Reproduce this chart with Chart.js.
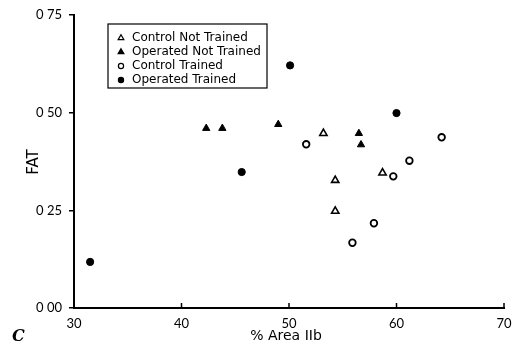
<!DOCTYPE html>
<html>
<head>
<meta charset="utf-8">
<script src="https://cdn.jsdelivr.net/npm/chart.js@4.4.0/dist/chart.umd.min.js"></script>
<style>
  html, body { margin: 0; padding: 0; background: #fff; }
</style>
</head>
<body>
<canvas id="fatChart" width="522" height="346"></canvas>
<script>
'use strict';
/*---------------------------------*/
/*-------------Data----------------*/
/*---------------------------------*/
let seriesNames = ['Control Not Trained', 'Operated Not Trained', 'Control Trained', 'Operated Trained'];

let controlNotTrainedArea = [53.2, 58.7, 54.3, 54.3];
let controlNotTrainedFat = [0.447, 0.346, 0.327, 0.248];

let operatedNotTrainedArea = [42.3, 43.8, 49.0, 56.5, 56.7];
let operatedNotTrainedFat = [0.46, 0.46, 0.47, 0.447, 0.418];

let controlTrainedArea = [51.6, 64.2, 61.2, 59.7, 57.9, 55.9];
let controlTrainedFat = [0.419, 0.437, 0.377, 0.337, 0.217, 0.167];

let operatedTrainedArea = [31.5, 45.6, 50.1, 60.0];
let operatedTrainedFat = [0.118, 0.348, 0.621, 0.499];

let xTickValues = [30, 40, 50, 60, 70];
let yTickValues = [0, 0.25, 0.5, 0.75];

let fontName = 'Lato, "DejaVu Sans", sans-serif';
let legendFont = '"DejaVu Sans", sans-serif';

/*---------------------------------*/
/*-------------Helpers-------------*/
/*---------------------------------*/
function toPoints(xs, ys) {
  let pts = [];
  for (let i = 0; i < xs.length; i++) {
    pts.push({ x: xs[i], y: ys[i] });
  }
  return pts;
}

// the old typeset labels read "0 75", with the point dropped
function fatLabel(value) {
  return value.toFixed(2).replace('.', ' ');
}

let datasets = [
  {
    label: seriesNames[0],
    data: toPoints(controlNotTrainedArea, controlNotTrainedFat),
    pointStyle: 'triangle',
    pointRadius: 4.2,
    backgroundColor: '#fff',
    borderColor: '#000',
    borderWidth: 1.6,
  },
  {
    label: seriesNames[1],
    data: toPoints(operatedNotTrainedArea, operatedNotTrainedFat),
    pointStyle: 'triangle',
    pointRadius: 4.2,
    backgroundColor: '#000',
    borderColor: '#000',
    borderWidth: 1,
  },
  {
    label: seriesNames[2],
    data: toPoints(controlTrainedArea, controlTrainedFat),
    pointStyle: 'circle',
    pointRadius: 3.3,
    backgroundColor: '#fff',
    borderColor: '#000',
    borderWidth: 1.8,
  },
  {
    label: seriesNames[3],
    data: toPoints(operatedTrainedArea, operatedTrainedFat),
    pointStyle: 'circle',
    pointRadius: 3.6,
    backgroundColor: '#000',
    borderColor: '#000',
    borderWidth: 1,
  },
];

/*---------------------------------*/
/*-----Legend, titles, x ticks-----*/
/*---------------------------------*/
let extrasPlugin = {
  id: 'extras',
  afterDraw(chart) {
    let ctx = chart.ctx;
    let area = chart.chartArea;
    let xScale = chart.scales.x;
    ctx.save();

    // x ticks point up into the plot
    ctx.strokeStyle = '#000';
    ctx.lineWidth = 1.5;
    xTickValues.forEach(function (v) {
      if (v === xTickValues[0]) return;
      let px = xScale.getPixelForValue(v);
      ctx.beginPath();
      ctx.moveTo(px, area.bottom);
      ctx.lineTo(px, area.bottom - 5);
      ctx.stroke();
    });

    // boxed legend in the upper left
    let boxLeft = area.left + 34;
    let boxTop = area.top + 9;
    ctx.lineWidth = 1.2;
    ctx.strokeRect(boxLeft, boxTop, 159, 64);
    ctx.font = '12px ' + legendFont;
    ctx.textBaseline = 'middle';
    ctx.textAlign = 'left';
    chart.data.datasets.forEach(function (ds, i) {
      let rowY = boxTop + 14 + i * 14;
      ctx.fillStyle = ds.backgroundColor;
      ctx.strokeStyle = ds.borderColor;
      Chart.helpers.drawPoint(ctx, {
        pointStyle: ds.pointStyle,
        radius: ds.pointStyle === 'triangle' ? 3.3 : 2.6,
        rotation: 0,
        borderWidth: ds.borderWidth,
      }, boxLeft + 13, rowY);
      ctx.fillStyle = '#000';
      ctx.fillText(ds.label, boxLeft + 24, rowY);
    });

    // axis titles
    ctx.fillStyle = '#000';
    ctx.font = '14px ' + legendFont;
    ctx.textAlign = 'center';
    ctx.fillText('% Area IIb', 286, 336);
    ctx.save();
    ctx.translate(34, 162);
    ctx.rotate(-Math.PI / 2);
    ctx.font = '15px ' + legendFont;
    ctx.fillText('FAT', 0, 0);
    ctx.restore();

    // panel letter
    ctx.font = 'italic bold 16px "DejaVu Serif", serif';
    ctx.textAlign = 'left';
    ctx.fillText('C', 12, 337);
    ctx.restore();
  },
};

/*---------------------------------*/
/*-----------Chart Render----------*/
/*---------------------------------*/
let config = {
  type: 'scatter',
  data: { datasets: datasets },
  options: {
    responsive: false,
    animation: false,
    devicePixelRatio: 1,
    layout: { padding: { top: 15, right: 18, left: 0, bottom: 0 } },
    plugins: {
      legend: { display: false },
      tooltip: { enabled: false },
    },
    scales: {
      x: {
        type: 'linear',
        min: 30,
        max: 70,
        afterBuildTicks(scale) {
          scale.ticks = xTickValues.map(function (v) { return { value: v }; });
        },
        afterFit(scale) { scale.height = 38; },
        border: { display: true, color: '#000', width: 2 },
        grid: { display: true, drawOnChartArea: false, drawTicks: false, color: '#000' },
        ticks: {
          padding: 8,
          color: '#000',
          font: { family: fontName, size: 13 },
          maxRotation: 0,
        },
      },
      y: {
        type: 'linear',
        min: 0,
        max: 0.75,
        afterBuildTicks(scale) {
          scale.ticks = yTickValues.map(function (v) { return { value: v }; });
        },
        afterFit(scale) { scale.width = 74; },
        border: { display: true, color: '#000', width: 2 },
        grid: { display: true, drawOnChartArea: false, drawTicks: true, tickLength: 5, color: '#000', lineWidth: 1.5 },
        ticks: {
          padding: 7,
          color: '#000',
          font: { family: fontName, size: 13 },
          callback: function (value) { return fatLabel(value); },
        },
      },
    },
  },
  plugins: [extrasPlugin],
};

let fatChart = new Chart(document.getElementById('fatChart'), config);
</script>
</body>
</html>
